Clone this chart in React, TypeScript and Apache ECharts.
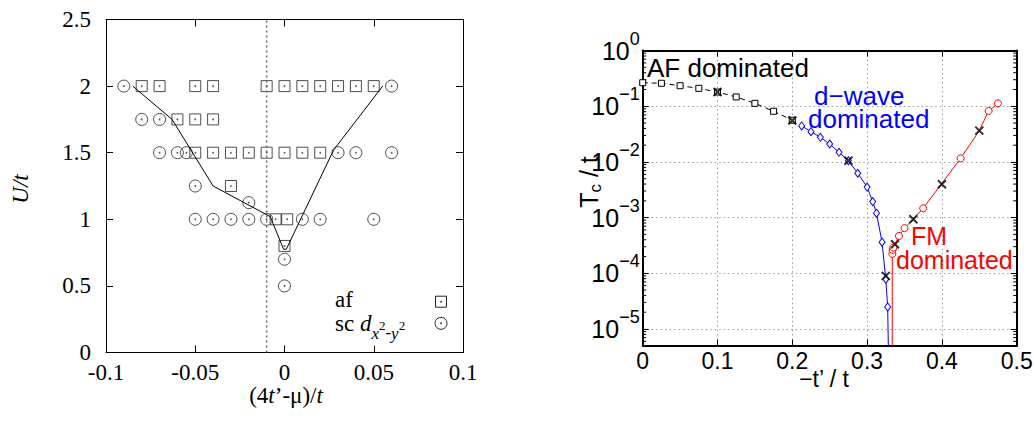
import React, { useEffect, useRef } from 'react';
import * as echarts from 'echarts';

// ---------- Left panel: phase diagram U/t vs (4t'-mu)/t ----------
const afX = [-0.08, -0.07, -0.05, -0.04, -0.01, 0, 0.01, 0.02, 0.03, 0.04, 0.05,
  -0.06, -0.05, -0.04,
  -0.05, -0.04, -0.03, -0.02, -0.01, 0, 0.01, 0.02,
  -0.03,
  -0.005, 0.0015,
  0];
const afU = [2, 2, 2, 2, 2, 2, 2, 2, 2, 2, 2,
  1.75, 1.75, 1.75,
  1.5, 1.5, 1.5, 1.5, 1.5, 1.5, 1.5, 1.5,
  1.25,
  1, 1,
  0.8];

const scX = [-0.09, 0.06,
  -0.08, -0.07,
  -0.07, -0.06, -0.055, 0.03, 0.04, 0.06,
  -0.05,
  -0.02,
  -0.05, -0.04, -0.03, -0.02, -0.01, 0.01, 0.02, 0.05,
  0, 0];
const scU = [2, 2,
  1.75, 1.75,
  1.5, 1.5, 1.5, 1.5, 1.5, 1.5,
  1.25,
  1.125,
  1, 1, 1, 1, 1, 1, 1, 1,
  0.7, 0.5];

const boundaryX = [-0.085, -0.063, -0.04, -0.008, -0.0005, 0.001, 0.0275, 0.055];
const boundaryU = [2.0, 1.75, 1.25, 1.02, 0.775, 0.775, 1.52, 2.0];

const dividerX = -0.01;

// ---------- Right panel: Tc/t vs -t'/t ----------
const afTcX = [0, 0.025, 0.05, 0.075, 0.1, 0.125, 0.15, 0.175, 0.2];
const afTcY = [0.265, 0.259, 0.234, 0.21, 0.18, 0.147, 0.113, 0.0813, 0.0562];

const dwX = [0.2125, 0.225, 0.2375, 0.25, 0.2625, 0.275, 0.2875, 0.3, 0.3075, 0.3125, 0.32, 0.325, 0.3275];
const dwY = [0.0443, 0.035, 0.0277, 0.021, 0.0149, 0.0105, 0.00627, 0.00354, 0.00194, 0.0012, 0.000362, 0.0000783, 0.0000249];
const dwEndX = 0.3305; // curve drops off the bottom of the scale here

const fmX = [0.3337, 0.334, 0.335, 0.3426, 0.35, 0.375, 0.425, 0.45, 0.4625, 0.475];
const fmY = [0.000223, 0.000263, 0.000289, 0.000468, 0.000646, 0.00147, 0.0116, 0.0365, 0.0824, 0.113];
const fmMarked = [true, true, true, true, true, true, true, false, true, true];
const fmStartX = 0.3335; // curve rises from below the scale here

const crossX = [0.1, 0.2, 0.275, 0.325, 0.3373, 0.3618, 0.4, 0.45];
const crossY = [0.18, 0.0556, 0.0105, 0.0000897, 0.000333, 0.000935, 0.00398, 0.0365];

const OFF_SCALE = 1e-7;

const SERIF = 'Liberation Serif';
const SANS = 'Liberation Sans';

const minorTicks: number[] = [];
for (let e = -6; e < 0; e++) {
  for (let k = 2; k <= 9; k++) {
    const v = k * Math.pow(10, e);
    if (v > 5e-6 && v < 1) minorTicks.push(v);
  }
}

function zip(xs: number[], ys: number[]) {
  return xs.map((x, i) => [x, ys[i]]);
}

function txt(x: number, y: number, text: string, size: number, family: string, color: string, extra: any = {}) {
  return {
    type: 'text',
    x,
    y,
    silent: true,
    rotation: extra.rotation || 0,
    style: {
      text,
      fontSize: size,
      fontFamily: family,
      fontStyle: extra.fontStyle || 'normal',
      fill: color,
      align: extra.align || 'left',
      textAlign: extra.align || 'left',
      verticalAlign: 'middle',
      textVerticalAlign: 'middle',
      lineHeight: extra.lineHeight,
      rich: extra.rich,
    },
  };
}

export default function App() {
  const ref = useRef<HTMLDivElement>(null);

  useEffect(() => {
    if (!ref.current) return;
    const chart = echarts.init(ref.current, null, { renderer: 'svg' });

    const leftAxisCommon = {
      gridIndex: 0,
      type: 'value',
      axisLine: { show: true, onZero: false, lineStyle: { color: '#000', width: 1 } },
      axisTick: { show: true, inside: true, length: 7, lineStyle: { color: '#000', width: 1 } },
      splitLine: { show: false },
    };
    const leftLabel = { fontFamily: SERIF, fontSize: 23, color: '#000' };

    const rightXCommon = {
      gridIndex: 1,
      type: 'value',
      min: 0,
      max: 0.5,
      interval: 0.1,
      axisLine: { show: true, onZero: false, lineStyle: { color: '#000', width: 2 } },
      axisTick: { show: true, inside: true, length: 6, lineStyle: { color: '#000', width: 1 } },
    };
    const rightYCommon = {
      gridIndex: 1,
      type: 'log',
      logBase: 10,
      min: 5e-6,
      max: 1,
      axisLine: { show: true, onZero: false, lineStyle: { color: '#000', width: 2 } },
      axisTick: { show: true, inside: true, length: 6, lineStyle: { color: '#000', width: 1 } },
    };
    const dotted = { show: true, lineStyle: { color: '#999', width: 1, type: [1.5, 3] } };

    const logFormatter = (v: number) => {
      const l = Math.log10(v);
      const n = Math.round(l);
      if (Math.abs(l - n) > 1e-6) return '';
      return `{b|10}{e|${n === 0 ? '0' : '\u2212' + -n}}`;
    };

    const option: any = {
      animation: false,
      backgroundColor: '#fff',
      grid: [
        { left: 106, right: 571, top: 19.5, bottom: 74.5, outerBoundsMode: 'none', containLabel: false },
        { left: 642.7, right: 17.3, top: 50.6, bottom: 81.3, outerBoundsMode: 'none', containLabel: false },
      ],
      xAxis: [
        { ...leftAxisCommon, position: 'bottom', min: -0.1, max: 0.1, interval: 0.05,
          axisLabel: { ...leftLabel, margin: 8 } },
        { ...leftAxisCommon, position: 'top', min: -0.1, max: 0.1, interval: 0.05, axisLabel: { show: false } },
        { ...rightXCommon, position: 'bottom', splitLine: dotted,
          axisLabel: { fontFamily: SANS, fontSize: 23, color: '#000', margin: 4 } },
        { ...rightXCommon, position: 'top', splitLine: { show: false }, axisLabel: { show: false } },
      ],
      yAxis: [
        { ...leftAxisCommon, position: 'left', min: 0, max: 2.5, interval: 0.5,
          axisLabel: { ...leftLabel, margin: 15 } },
        { ...leftAxisCommon, position: 'right', min: 0, max: 2.5, interval: 0.5, axisLabel: { show: false } },
        { ...rightYCommon, position: 'left', splitLine: dotted,
          axisLabel: {
            formatter: logFormatter,
            margin: 3,
            color: '#000',
            rich: {
              b: { fontFamily: SANS, fontSize: 25, color: '#000', lineHeight: 26, verticalAlign: 'middle' },
              e: { fontFamily: SANS, fontSize: 18, color: '#000', lineHeight: 18, padding: [0, 0, 24, 0], verticalAlign: 'middle' },
            },
          } },
        { ...rightYCommon, position: 'right', splitLine: { show: false }, axisLabel: { show: false } },
      ],
      series: [
        {
          type: 'line', xAxisIndex: 0, yAxisIndex: 0, data: [[dividerX, 0], [dividerX, 2.5]],
          symbol: 'none', lineStyle: { color: '#666', width: 1.5, type: [2, 3] }, silent: true,
        },
        {
          type: 'scatter', xAxisIndex: 0, yAxisIndex: 0, data: zip(afX, afU), symbol: 'rect', symbolSize: 11,
          itemStyle: { color: 'rgba(0,0,0,0)', borderColor: '#222', borderWidth: 1 }, silent: true,
        },
        {
          type: 'scatter', xAxisIndex: 0, yAxisIndex: 0, data: zip(scX, scU), symbol: 'circle', symbolSize: 12,
          itemStyle: { color: 'rgba(0,0,0,0)', borderColor: '#222', borderWidth: 1 }, silent: true,
        },
        {
          type: 'scatter', xAxisIndex: 0, yAxisIndex: 0, data: [...zip(afX, afU), ...zip(scX, scU)],
          symbol: 'circle', symbolSize: 1.8, itemStyle: { color: '#333' }, silent: true,
        },
        {
          type: 'line', xAxisIndex: 0, yAxisIndex: 0, data: zip(boundaryX, boundaryU), symbol: 'none',
          lineStyle: { color: '#000', width: 1 }, silent: true,
        },
        // right panel
        {
          type: 'custom', xAxisIndex: 2, yAxisIndex: 2, silent: true, clip: false,
          data: minorTicks.map((v) => [0, v]),
          renderItem: (_p: any, api: any) => {
            const v = api.value(1);
            const a = api.coord([0, v]);
            const b = api.coord([0.5, v]);
            return {
              type: 'group',
              children: [
                { type: 'line', shape: { x1: a[0], y1: a[1], x2: a[0] + 3.5, y2: a[1] }, style: { stroke: '#000', lineWidth: 1 } },
                { type: 'line', shape: { x1: b[0] - 3.5, y1: b[1], x2: b[0], y2: b[1] }, style: { stroke: '#000', lineWidth: 1 } },
              ],
            };
          },
        },
        {
          type: 'line', xAxisIndex: 2, yAxisIndex: 2, data: zip(afTcX, afTcY), symbol: 'rect', symbolSize: 6,
          itemStyle: { color: '#fff', borderColor: '#000', borderWidth: 1 },
          lineStyle: { color: '#000', width: 1, type: [5, 4] }, silent: true,
        },
        {
          type: 'line', xAxisIndex: 2, yAxisIndex: 2,
          data: [...zip(dwX, dwY), { value: [dwEndX, OFF_SCALE], symbol: 'none' }],
          symbol: 'diamond', symbolSize: [6, 8],
          itemStyle: { color: '#fff', borderColor: '#0000ff', borderWidth: 1 },
          lineStyle: { color: '#0000ff', width: 1 }, silent: true,
        },
        {
          type: 'line', xAxisIndex: 2, yAxisIndex: 2,
          data: [
            { value: [fmStartX, OFF_SCALE], symbol: 'none' },
            ...fmX.map((x, i) => (fmMarked[i] ? [x, fmY[i]] : { value: [x, fmY[i]], symbol: 'none' })),
          ],
          symbol: 'circle', symbolSize: 7,
          itemStyle: { color: '#fff', borderColor: '#ff0000', borderWidth: 1 },
          lineStyle: { color: '#ff0000', width: 1 }, silent: true,
        },
        {
          type: 'scatter', xAxisIndex: 2, yAxisIndex: 2, data: zip(crossX, crossY),
          symbol: 'path://M0,0L10,10M10,0L0,10', symbolSize: 8,
          itemStyle: { color: 'rgba(0,0,0,0)', borderColor: '#000', borderWidth: 2 }, silent: true, z: 5,
        },
      ],
      graphic: [
        // left panel labels
        txt(20, 189, 'U/t', 23, SERIF, '#000', { rotation: Math.PI / 2, align: 'center', fontStyle: 'italic' }),
        txt(286, 395, '{n|(4}{i|t}{n|\u2019-\u03bc)/}{i|t}', 23, SERIF, '#000', {
          align: 'center',
          rich: {
            n: { fontFamily: SERIF, fontSize: 23, fill: '#000', color: '#000' },
            i: { fontFamily: SERIF, fontSize: 23, fontStyle: 'italic', fill: '#000', color: '#000' },
          },
        }),
        txt(335, 299, 'af', 23, SERIF, '#000'),
        txt(335, 323, '{n|sc }{i|d}{s|x}{p|2}{m|-}{s|y}{p|2}', 23, SERIF, '#000', {
          rich: {
            n: { fontFamily: SERIF, fontSize: 23, lineHeight: 26, color: '#000', fill: '#000', verticalAlign: 'middle' },
            i: { fontFamily: SERIF, fontSize: 23, fontStyle: 'italic', lineHeight: 26, color: '#000', fill: '#000', verticalAlign: 'middle' },
            s: { fontFamily: SERIF, fontSize: 17, fontStyle: 'italic', lineHeight: 17, padding: [20, 0, 0, 0], color: '#000', fill: '#000', verticalAlign: 'middle' },
            m: { fontFamily: SERIF, fontSize: 17, lineHeight: 17, padding: [18, 0, 0, 0], color: '#000', fill: '#000', verticalAlign: 'middle' },
            p: { fontFamily: SERIF, fontSize: 13, lineHeight: 13, padding: [4, 0, 0, 0], color: '#000', fill: '#000', verticalAlign: 'middle' },
          },
        }),
        { type: 'rect', shape: { x: 435.5, y: 296.2, width: 11, height: 11 }, style: { fill: 'none', stroke: '#222', lineWidth: 1 }, silent: true },
        { type: 'circle', shape: { cx: 441, cy: 301.7, r: 0.9 }, style: { fill: '#333' }, silent: true },
        { type: 'circle', shape: { cx: 441, cy: 323.3, r: 6 }, style: { fill: 'none', stroke: '#222', lineWidth: 1 }, silent: true },
        { type: 'circle', shape: { cx: 441, cy: 323.3, r: 0.9 }, style: { fill: '#333' }, silent: true },
        // right panel labels
        txt(589, 182, '{a|T}{b|c}{a| / t}', 25, SANS, '#000', {
          rotation: Math.PI / 2,
          align: 'center',
          rich: {
            a: { fontFamily: SANS, fontSize: 25, lineHeight: 30, fill: '#000', color: '#000', verticalAlign: 'middle' },
            b: { fontFamily: SANS, fontSize: 17, lineHeight: 17, padding: [13, 0, 0, 0], fill: '#000', color: '#000', verticalAlign: 'middle' },
          },
        }),
        txt(824, 379, '\u2212t\u2019 / t', 23, SANS, '#000', { align: 'center' }),
        txt(647, 68, 'AF dominated', 26, SANS, '#000'),
        txt(808, 107.5, '{a|d\u2212wave}\n{b|dominated}', 26, SANS, '#0000ff', {
          rich: {
            a: { fontFamily: SANS, fontSize: 26, lineHeight: 23, color: '#0000ff', fill: '#0000ff', padding: [0, 0, 0, 6] },
            b: { fontFamily: SANS, fontSize: 26, lineHeight: 23, color: '#0000ff', fill: '#0000ff' },
          },
        }),
        txt(896, 248, '{a|FM}\n{b|dominated}', 25, SANS, '#ff0000', {
          rich: {
            a: { fontFamily: SANS, fontSize: 25, lineHeight: 24, color: '#ff0000', fill: '#ff0000', padding: [0, 0, 0, 15] },
            b: { fontFamily: SANS, fontSize: 25, lineHeight: 24, color: '#ff0000', fill: '#ff0000' },
          },
        }),
      ],
    };

    chart.setOption(option);
    return () => chart.dispose();
  }, []);

  return (
    <div
      ref={ref}
      style={{ position: 'fixed', left: 0, top: 0, width: 1034, height: 427, background: '#fff' }}
    />
  );
}
